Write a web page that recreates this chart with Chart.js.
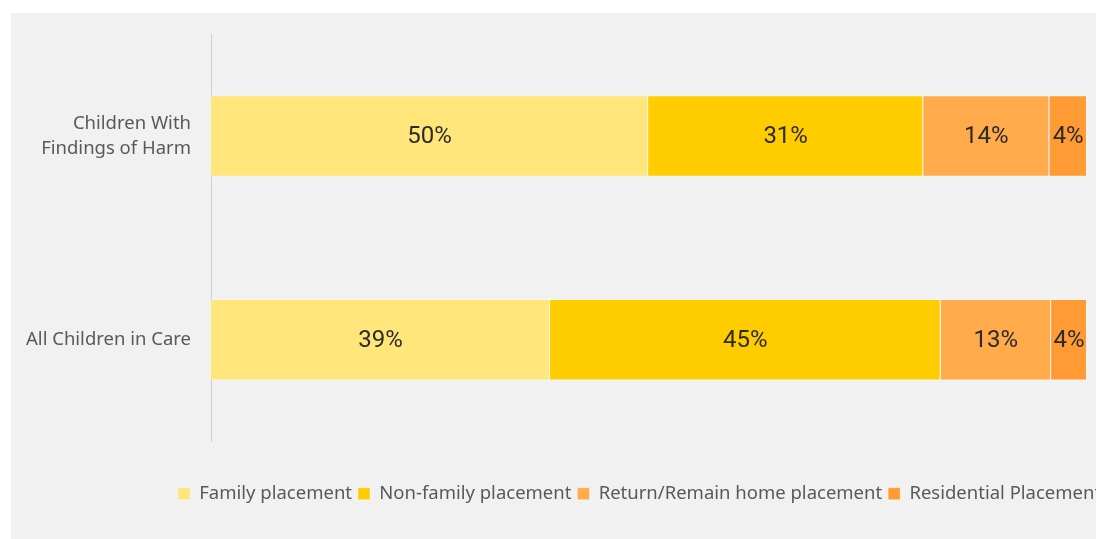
<!DOCTYPE html>
<html>
<head>
<meta charset="utf-8">
<script src="https://cdn.jsdelivr.net/npm/chart.js@4"></script>
<style>
  html, body { margin: 0; padding: 0; background: #fff; overflow: hidden; }
  #panel { position: absolute; left: 11px; top: 13px; width: 1085px; height: 526px; background: #f1f1f1; }
</style>
</head>
<body>
<div id="panel"><canvas id="placementChart" width="1085" height="526"></canvas></div>
<script>
const categories = [['Children With', 'Findings of Harm'], 'All Children in Care'];
const seriesNames = ['Family placement', 'Non-family placement', 'Return/Remain home placement', 'Residential Placement'];
const familyPlacement = [49.9, 38.7];
const nonFamilyPlacement = [31.4, 44.6];
const returnHome = [14.4, 12.6];
const residential = [4.3, 4.1];
const seriesColors = ['#ffe57a', '#ffcc00', '#ffaa4b', '#ff9a35'];

// labels inside each segment
const segmentLabels = {
    id: 'segmentLabels',
    afterDatasetsDraw(chart) {
        const ctx = chart.ctx;
        ctx.save();
        ctx.font = '24px Roboto';
        ctx.fillStyle = '#2b2b2b';
        ctx.textAlign = 'center';
        ctx.textBaseline = 'middle';
        chart.data.datasets.forEach(function(ds, i) {
            chart.getDatasetMeta(i).data.forEach(function(bar, j) {
                const p = bar.getCenterPoint();
                ctx.fillText(Math.round(ds.data[j]) + '%', p.x, p.y + 1);
            });
        });
        ctx.restore();
    }
};

// move the legend so it starts where the original does
const legendShift = {
    id: 'legendShift',
    afterLayout(chart) {
        const lg = chart.legend;
        const pad = lg.options.labels.padding;
        const start = (lg.left + pad + lg.right - lg.lineWidths[0]) / 2;
        const dx = 167 - start;
        lg.left += dx;
        lg.right += dx;
    }
};

const values = [familyPlacement, nonFamilyPlacement, returnHome, residential];

new Chart(document.getElementById('placementChart').getContext('2d'), {
    type: 'bar',
    data: {
        labels: categories,
        datasets: seriesNames.map(function(name, i) {
            return {
                label: name,
                data: values[i],
                backgroundColor: seriesColors[i],
                borderColor: 'rgba(255,255,255,0.35)',
                borderWidth: 1,
                barPercentage: 1,
                categoryPercentage: 0.4
            };
        })
    },
    options: {
        indexAxis: 'y',
        responsive: false,
        animation: false,
        layout: { padding: { top: 21, right: 9, bottom: 26, left: 0 } },
        scales: {
            x: {
                stacked: true,
                min: 0,
                max: 100,
                grid: { display: false },
                border: { display: false },
                ticks: { display: false },
                afterFit(scale) { scale.height = 37; }
            },
            y: {
                stacked: true,
                grid: { display: false },
                border: { display: true, color: '#d0d0d0', width: 1 },
                ticks: {
                    color: '#595959',
                    font: { family: 'Noto Sans', size: 18.5, lineHeight: 1.35 },
                    padding: 12
                },
                afterFit(scale) {
                    scale.width = 200;
                    scale.paddingTop = 0;
                    scale.paddingBottom = 0;
                }
            }
        },
        plugins: {
            legend: {
                position: 'bottom',
                labels: {
                    boxWidth: 12,
                    boxHeight: 12,
                    padding: 6,
                    color: '#595959',
                    font: { family: 'Noto Sans', size: 18.5 }
                }
            },
            tooltip: { enabled: false }
        }
    },
    plugins: [segmentLabels, legendShift]
});
</script>
</body>
</html>
